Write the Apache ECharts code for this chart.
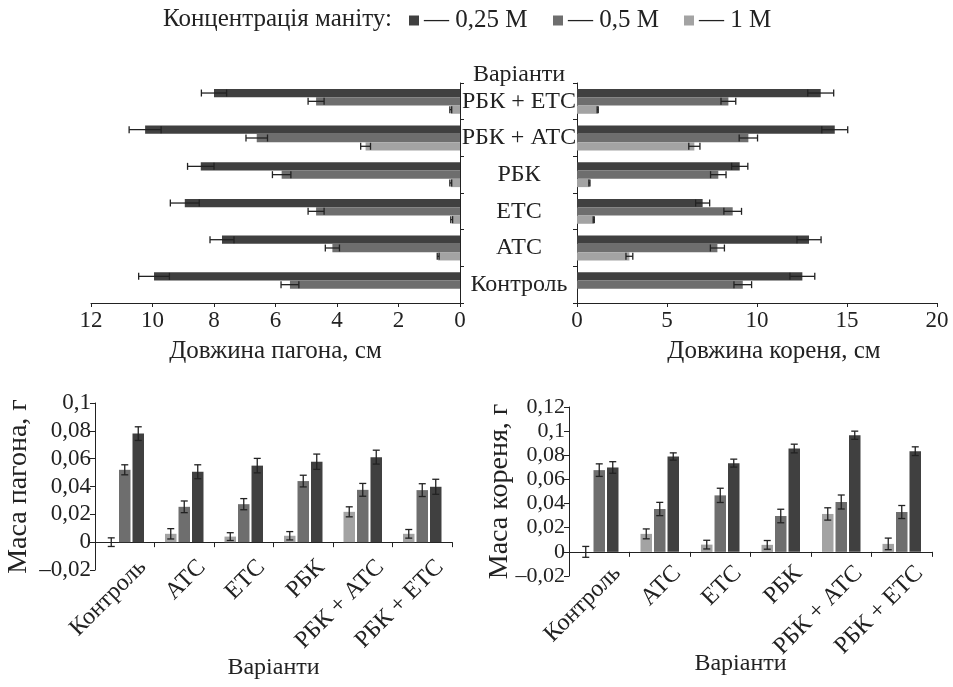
<!DOCTYPE html>
<html>
<head>
<meta charset="utf-8">
<script src="https://cdn.jsdelivr.net/npm/echarts@6.0.0/dist/echarts.min.js"></script>
<style>
  html, body { margin: 0; padding: 0; background: #fff; }
  #chart { width: 953px; height: 687px; }
</style>
</head>
<body>
<div id="chart"></div>
<script>
// categories (variants)
const categories = ['Контроль', 'АТС', 'ЕТС', 'РБК', 'РБК + АТС', 'РБК + ЕТС'];
const seriesNames = ['— 0,25 М', '— 0,5 М', '— 1 М'];

// shoot length, cm
const shootLen025 = [9.95, 7.74, 8.95, 8.43, 10.24, 8.0];
const shootLen025Err = [0.5, 0.39, 0.47, 0.43, 0.52, 0.41];
const shootLen05 = [5.53, 4.15, 4.68, 5.8, 6.61, 4.68];
const shootLen05Err = [0.29, 0.23, 0.26, 0.3, 0.35, 0.26];
const shootLen1 = [0, 0.71, 0.27, 0.3, 3.07, 0.3];
const shootLen1Err = [0, 0.03, 0.03, 0.03, 0.16, 0.03];

// root length, cm
const rootLen025 = [12.52, 12.89, 6.98, 9.04, 14.32, 13.54];
const rootLen025Err = [0.69, 0.67, 0.39, 0.45, 0.72, 0.72];
const rootLen05 = [9.21, 7.8, 8.65, 7.85, 9.52, 8.41];
const rootLen05Err = [0.49, 0.39, 0.49, 0.43, 0.51, 0.41];
const rootLen1 = [0, 2.91, 0.93, 0.69, 6.52, 1.15];
const rootLen1Err = [0, 0.19, 0.03, 0.03, 0.31, 0.03];

// shoot mass, g
const shootMass025 = [0.078, 0.0506, 0.055, 0.0578, 0.0611, 0.0398];
const shootMass025Err = [0.0049, 0.005, 0.0052, 0.0055, 0.005, 0.0054];
const shootMass05 = [0.052, 0.0254, 0.0273, 0.0439, 0.0376, 0.0374];
const shootMass05Err = [0.0036, 0.0042, 0.004, 0.0042, 0.0046, 0.0046];
const shootMass1 = [0, 0.006, 0.004, 0.0046, 0.0218, 0.006];
const shootMass1Err = [0.0031, 0.0037, 0.0028, 0.003, 0.0036, 0.0031];

// root mass, g
const rootMass025 = [0.0699, 0.079, 0.0735, 0.0856, 0.0966, 0.0834];
const rootMass025Err = [0.0048, 0.003, 0.0033, 0.0036, 0.0034, 0.0036];
const rootMass05 = [0.0677, 0.0355, 0.0468, 0.0297, 0.0413, 0.033];
const rootMass05Err = [0.0052, 0.0055, 0.0059, 0.0056, 0.0058, 0.0054];
const rootMass1 = [0, 0.0149, 0.006, 0.0058, 0.0314, 0.0066];
const rootMass1Err = [0.0045, 0.0041, 0.0036, 0.0036, 0.0051, 0.0048];

const FONT = 'Liberation Serif';
const INK = '#222';
const colors = { c025: '#404040', c05: '#6e6e6e', c1: '#a3a3a3' };

// top charts: bar height 8.3, no gap; bottom: width 11.5, small gap
const H_W = 8.3, H_GAP = 0;
const V_W = 11.5, V_GAP = 2;

function numFmt(v) {
  if (v === 0) return '0';
  const s = String(Math.round(Math.abs(v) * 1000) / 1000).replace('.', ',');
  return (v < 0 ? '–' : '') + s;
}

function bar(name, color, data, xi, yi, w, gap) {
  return {
    type: 'bar', name: name, data: data,
    xAxisIndex: xi, yAxisIndex: yi,
    barWidth: w, barGap: (gap / w * 100) + '%',
    itemStyle: { color: color },
    silent: true
  };
}

function errBars(vals, errs, idx, xi, yi, horizontal, w, gap, cap) {
  return {
    type: 'custom', name: 'err',
    xAxisIndex: xi, yAxisIndex: yi, z: 5, silent: true,
    data: vals.map((v, i) => horizontal ? [v, i, errs[i]] : [i, v, errs[i]]),
    renderItem: function (params, api) {
      const e = api.value(2);
      if (!e) return;
      const total = 3 * w + 2 * gap;
      const off = -total / 2 + idx * (w + gap) + w / 2;
      const style = { stroke: INK, lineWidth: 1.3 };
      let lo, hi;
      if (horizontal) {
        const v = api.value(0), c = api.value(1);
        lo = api.coord([v - e, c]); hi = api.coord([v + e, c]);
        const y = lo[1] + off;
        return { type: 'group', children: [
          { type: 'line', shape: { x1: lo[0], y1: y, x2: hi[0], y2: y }, style: style },
          { type: 'line', shape: { x1: lo[0], y1: y - cap / 2, x2: lo[0], y2: y + cap / 2 }, style: style },
          { type: 'line', shape: { x1: hi[0], y1: y - cap / 2, x2: hi[0], y2: y + cap / 2 }, style: style }
        ] };
      }
      const c = api.value(0), v = api.value(1);
      lo = api.coord([c, v - e]); hi = api.coord([c, v + e]);
      const x = lo[0] + off;
      return { type: 'group', children: [
        { type: 'line', shape: { x1: x, y1: lo[1], x2: x, y2: hi[1] }, style: style },
        { type: 'line', shape: { x1: x - cap / 2, y1: lo[1], x2: x + cap / 2, y2: lo[1] }, style: style },
        { type: 'line', shape: { x1: x - cap / 2, y1: hi[1], x2: x + cap / 2, y2: hi[1] }, style: style }
      ] };
    }
  };
}

function legendAt(left, name) {
  return {
    left: left, top: 8, padding: 0, icon: 'rect', itemWidth: 10, itemHeight: 10,
    selectedMode: false, data: [name],
    textStyle: { color: INK, fontFamily: FONT, fontSize: 25 }
  };
}

const axisLine = { show: true, lineStyle: { color: INK, width: 1 } };
const tick = { show: true, length: 4, lineStyle: { color: INK } };
const lbl = { color: INK, fontFamily: FONT, fontSize: 23 };
const massLbl = { color: INK, fontFamily: FONT, fontSize: 23, margin: 4, formatter: numFmt };
const massLblSmall = Object.assign({}, massLbl, { fontSize: 22 });
const rotLbl = { color: INK, fontFamily: FONT, fontSize: 24, rotate: 45, margin: -24,
  verticalAlign: 'top', lineHeight: 50, interval: 0 };

const chart = echarts.init(document.getElementById('chart'));

chart.setOption({
  animation: false,
  backgroundColor: '#fff',
  textStyle: { fontFamily: FONT },
  legend: [
    legendAt(409, seriesNames[0]),
    legendAt(553, seriesNames[1]),
    legendAt(684, seriesNames[2])
  ],
  graphic: [
    { type: 'text', left: 163, top: 7, style: { text: 'Концентрація маніту:', fill: INK, fontFamily: FONT, fontSize: 25 } },
    { type: 'text', x: 519, y: 75, style: { text: 'Варіанти', fill: INK, fontFamily: FONT, fontSize: 24, textAlign: 'center', textVerticalAlign: 'middle' } }
  ],
  grid: [
    { left: 91, top: 83, width: 369, height: 220, outerBoundsMode: 'none' },
    { left: 577, top: 83, width: 360, height: 220, outerBoundsMode: 'none' },
    { left: 95, top: 403, width: 357, height: 167, outerBoundsMode: 'none' },
    { left: 569, top: 407, width: 363, height: 169, outerBoundsMode: 'none' }
  ],
  xAxis: [
    { gridIndex: 0, type: 'value', inverse: true, min: 0, max: 12, interval: 2,
      axisLine: axisLine, axisTick: tick, splitLine: { show: false },
      axisLabel: Object.assign({ margin: 6 }, lbl),
      name: 'Довжина пагона, см', nameLocation: 'middle', nameGap: 36,
      nameTextStyle: { color: INK, fontFamily: FONT, fontSize: 25 } },
    { gridIndex: 1, type: 'value', min: 0, max: 20, interval: 5,
      axisLine: axisLine, axisTick: tick, splitLine: { show: false },
      axisLabel: Object.assign({ margin: 6 }, lbl),
      name: 'Довжина кореня, см', nameLocation: 'middle', nameGap: 36,
      nameTextStyle: { color: INK, fontFamily: FONT, fontSize: 25, padding: [0, 0, 0, 34] } },
    { gridIndex: 2, type: 'category', data: categories,
      axisLine: axisLine, axisTick: Object.assign({}, tick, { length: 5 }),
      axisLabel: rotLbl,
      name: 'Варіанти', nameLocation: 'middle', nameGap: 86, nameMoveOverlap: false,
      nameTextStyle: { color: INK, fontFamily: FONT, fontSize: 24 } },
    { gridIndex: 3, type: 'category', data: categories,
      axisLine: axisLine, axisTick: Object.assign({}, tick, { length: 5 }),
      axisLabel: rotLbl,
      name: 'Варіанти', nameLocation: 'middle', nameGap: 76, nameMoveOverlap: false,
      nameTextStyle: { color: INK, fontFamily: FONT, fontSize: 24, padding: [0, 20, 0, 0] } }
  ],
  yAxis: [
    { gridIndex: 0, type: 'category', data: categories, position: 'right',
      axisLine: axisLine, axisTick: tick,
      axisLabel: { color: INK, fontFamily: FONT, fontSize: 24, align: 'center', margin: 59, interval: 0 } },
    { gridIndex: 1, type: 'category', data: categories, position: 'left',
      axisLine: axisLine, axisTick: tick, axisLabel: { show: false } },
    { gridIndex: 2, type: 'value', min: -0.02, max: 0.1, interval: 0.02,
      axisLine: axisLine, axisTick: Object.assign({}, tick, { length: 5 }), splitLine: { show: false },
      axisLabel: massLbl,
      name: 'Маса пагона, г', nameLocation: 'middle', nameGap: 62, nameMoveOverlap: false,
      nameTextStyle: { color: INK, fontFamily: FONT, fontSize: 28 } },
    { gridIndex: 3, type: 'value', min: -0.02, max: 0.12, interval: 0.02,
      axisLine: axisLine, axisTick: Object.assign({}, tick, { length: 5 }), splitLine: { show: false },
      axisLabel: massLblSmall,
      name: 'Маса кореня, г', nameLocation: 'middle', nameGap: 55, nameMoveOverlap: false,
      nameTextStyle: { color: INK, fontFamily: FONT, fontSize: 28 } }
  ],
  series: [
    // top-left: shoot length (dark first -> top of group)
    bar(seriesNames[0], colors.c025, shootLen025, 0, 0, H_W, H_GAP),
    bar(seriesNames[1], colors.c05, shootLen05, 0, 0, H_W, H_GAP),
    bar(seriesNames[2], colors.c1, shootLen1, 0, 0, H_W, H_GAP),
    errBars(shootLen025, shootLen025Err, 0, 0, 0, true, H_W, H_GAP, 7),
    errBars(shootLen05, shootLen05Err, 1, 0, 0, true, H_W, H_GAP, 7),
    errBars(shootLen1, shootLen1Err, 2, 0, 0, true, H_W, H_GAP, 7),
    // top-right: root length
    bar(seriesNames[0], colors.c025, rootLen025, 1, 1, H_W, H_GAP),
    bar(seriesNames[1], colors.c05, rootLen05, 1, 1, H_W, H_GAP),
    bar(seriesNames[2], colors.c1, rootLen1, 1, 1, H_W, H_GAP),
    errBars(rootLen025, rootLen025Err, 0, 1, 1, true, H_W, H_GAP, 7),
    errBars(rootLen05, rootLen05Err, 1, 1, 1, true, H_W, H_GAP, 7),
    errBars(rootLen1, rootLen1Err, 2, 1, 1, true, H_W, H_GAP, 7),
    // bottom-left: shoot mass (light first -> left)
    bar(seriesNames[2], colors.c1, shootMass1, 2, 2, V_W, V_GAP),
    bar(seriesNames[1], colors.c05, shootMass05, 2, 2, V_W, V_GAP),
    bar(seriesNames[0], colors.c025, shootMass025, 2, 2, V_W, V_GAP),
    errBars(shootMass1, shootMass1Err, 0, 2, 2, false, V_W, V_GAP, 7),
    errBars(shootMass05, shootMass05Err, 1, 2, 2, false, V_W, V_GAP, 7),
    errBars(shootMass025, shootMass025Err, 2, 2, 2, false, V_W, V_GAP, 7),
    // bottom-right: root mass
    bar(seriesNames[2], colors.c1, rootMass1, 3, 3, V_W, V_GAP),
    bar(seriesNames[1], colors.c05, rootMass05, 3, 3, V_W, V_GAP),
    bar(seriesNames[0], colors.c025, rootMass025, 3, 3, V_W, V_GAP),
    errBars(rootMass1, rootMass1Err, 0, 3, 3, false, V_W, V_GAP, 7),
    errBars(rootMass05, rootMass05Err, 1, 3, 3, false, V_W, V_GAP, 7),
    errBars(rootMass025, rootMass025Err, 2, 3, 3, false, V_W, V_GAP, 7)
  ]
});
</script>
</body>
</html>
